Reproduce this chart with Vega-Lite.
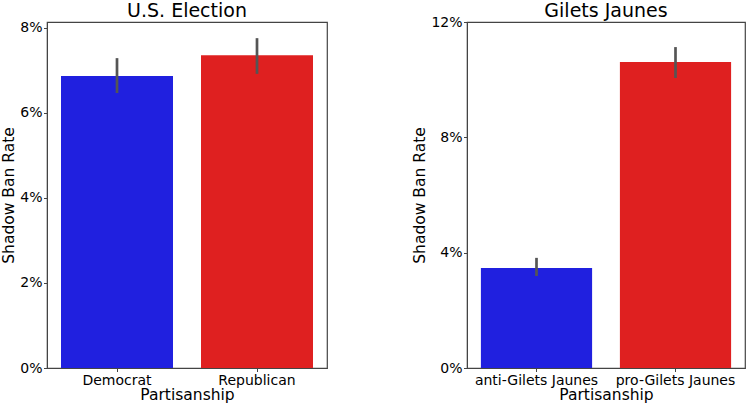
{
  "$schema": "https://vega.github.io/schema/vega-lite/v6.json",
  "padding": {"left": 1, "top": 1, "right": 2, "bottom": 0},
  "spacing": 140,
  "bounds": "flush",
  "datasets": {
    "rates": [
      {"panel": "U.S. Election", "party": "Democrat", "rate": 0.0687, "lo": 0.0647, "hi": 0.0729},
      {"panel": "U.S. Election", "party": "Republican", "rate": 0.0736, "lo": 0.0692, "hi": 0.0776},
      {"panel": "Gilets Jaunes", "party": "anti-Gilets Jaunes", "rate": 0.0347, "lo": 0.0319, "hi": 0.0382},
      {"panel": "Gilets Jaunes", "party": "pro-Gilets Jaunes", "rate": 0.1061, "lo": 0.1006, "hi": 0.1113}
    ]
  },
  "hconcat": [
    {
      "title": {"text": "U.S. Election", "offset": 0},
      "width": 280,
      "height": 346,
      "data": {"name": "rates"},
      "transform": [{"filter": "datum.panel === 'U.S. Election'"}],
      "encoding": {
        "x": {
          "field": "party", "type": "nominal", "title": "Partisanship",
          "scale": {"paddingInner": 0.2, "paddingOuter": 0.1}
        }
      },
      "layer": [
        {
          "mark": {"type": "bar"},
          "encoding": {
            "y": {
              "field": "rate", "type": "quantitative", "title": "Shadow Ban Rate",
              "scale": {"domain": [0, 0.0814], "nice": false},
              "axis": {"values": [0, 0.02, 0.04, 0.06, 0.08], "format": ".0%"}
            },
            "color": {
              "field": "party", "type": "nominal", "legend": null,
              "scale": {"domain": ["Democrat", "Republican"], "range": ["#2020df", "#df2020"]}
            }
          }
        },
        {
          "mark": {"type": "rule", "color": "#555555", "strokeWidth": 2.7},
          "encoding": {
            "y": {"field": "lo", "type": "quantitative"},
            "y2": {"field": "hi"}
          }
        }
      ]
    },
    {
      "title": {"text": "Gilets Jaunes", "offset": -6},
      "width": 278,
      "height": 346,
      "data": {"name": "rates"},
      "transform": [{"filter": "datum.panel === 'Gilets Jaunes'"}],
      "encoding": {
        "x": {
          "field": "party", "type": "nominal", "title": "Partisanship",
          "scale": {"paddingInner": 0.2, "paddingOuter": 0.1}
        }
      },
      "layer": [
        {
          "mark": {"type": "bar"},
          "encoding": {
            "y": {
              "field": "rate", "type": "quantitative", "title": "Shadow Ban Rate",
              "scale": {"domain": [0, 0.12], "nice": false},
              "axis": {"values": [0, 0.04, 0.08, 0.12], "format": ".0%"}
            },
            "color": {
              "field": "party", "type": "nominal", "legend": null,
              "scale": {"domain": ["anti-Gilets Jaunes", "pro-Gilets Jaunes"], "range": ["#2020df", "#df2020"]}
            }
          }
        },
        {
          "mark": {"type": "rule", "color": "#555555", "strokeWidth": 2.7},
          "encoding": {
            "y": {"field": "lo", "type": "quantitative"},
            "y2": {"field": "hi"}
          }
        }
      ]
    }
  ],
  "resolve": {"scale": {"color": "independent"}},
  "config": {
    "font": "DejaVu Sans",
    "view": {"stroke": "#444444", "strokeWidth": 1.2},
    "title": {"font": "DejaVu Sans", "fontSize": 19, "fontWeight": "normal", "color": "#000000"},
    "axis": {
      "grid": false,
      "labelFont": "DejaVu Sans",
      "labelFontSize": 14,
      "labelColor": "#000000",
      "titleFont": "DejaVu Sans",
      "titleFontSize": 15.5,
      "titleFontWeight": "normal",
      "titleColor": "#000000",
      "domainColor": "#444444",
      "tickColor": "#444444",
      "tickSize": 3.5,
      "labelPadding": 1.5
    },
    "axisX": {"labelAngle": 0, "titlePadding": 0},
    "axisY": {"titlePadding": 3},
    "bar": {"stroke": null}
  }
}
